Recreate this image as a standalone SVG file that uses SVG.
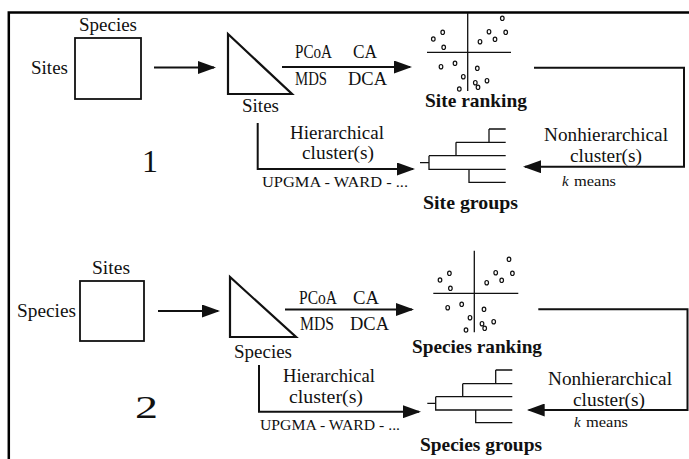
<svg xmlns="http://www.w3.org/2000/svg" width="689" height="459" viewBox="0 0 689 459">
<style>
  text { font-family: "Liberation Serif", "Times New Roman", serif; fill: #111; }
  .lbl { font-size: 19px; }
  .sm { font-size: 15px; }
  .b { font-size: 19px; font-weight: bold; }
  .num { font-size: 32px; }
  .shape { fill: none; stroke: #111; stroke-width: 1.8; }
  .tri { fill: none; stroke: #111; stroke-width: 2.2; stroke-linejoin: miter; }
  .thin { fill: none; stroke: #111; stroke-width: 1.3; }
  .conn { fill: none; stroke: #111; stroke-width: 2; }
  .dot { fill: none; stroke: #111; stroke-width: 1.2; }
</style>
<defs>
  <marker id="arr" markerUnits="userSpaceOnUse" markerWidth="18" markerHeight="13" viewBox="0 0 18 13" refX="16" refY="6.5" orient="auto">
    <path d="M0,0 L18,6.5 L0,13 Z" fill="#111"/>
  </marker>
  <g id="dots">
    <ellipse class="dot" cx="433.3" cy="39" rx="1.8" ry="2.2"/>
    <ellipse class="dot" cx="442.7" cy="32.3" rx="1.8" ry="2.2"/>
    <ellipse class="dot" cx="443.7" cy="47.3" rx="1.8" ry="2.2"/>
    <ellipse class="dot" cx="480" cy="41.7" rx="1.8" ry="2.2"/>
    <ellipse class="dot" cx="489" cy="31.7" rx="1.8" ry="2.2"/>
    <ellipse class="dot" cx="495" cy="39.3" rx="1.8" ry="2.2"/>
    <ellipse class="dot" cx="502.3" cy="18.3" rx="1.8" ry="2.2"/>
    <ellipse class="dot" cx="505.7" cy="32.3" rx="1.8" ry="2.2"/>
    <ellipse class="dot" cx="441" cy="66.7" rx="1.8" ry="2.2"/>
    <ellipse class="dot" cx="455" cy="63.3" rx="1.8" ry="2.2"/>
    <ellipse class="dot" cx="463.3" cy="76.7" rx="1.8" ry="2.2"/>
    <ellipse class="dot" cx="459.3" cy="89" rx="1.8" ry="2.2"/>
    <ellipse class="dot" cx="477.3" cy="68.3" rx="1.8" ry="2.2"/>
    <ellipse class="dot" cx="475.3" cy="82.7" rx="1.8" ry="2.2"/>
    <ellipse class="dot" cx="478" cy="87.3" rx="1.8" ry="2.2"/>
    <ellipse class="dot" cx="487" cy="80.7" rx="1.8" ry="2.2"/>
  </g>
</defs>
<rect width="689" height="459" fill="#fff"/>
<path d="M8.8,459 V12.5 H689" fill="none" stroke="#000" stroke-width="2.5"/>

<!-- Panel 1 -->
<g id="p1-matrix">
  <rect class="shape" x="75" y="38" width="66" height="61"/>
  <text class="lbl" x="79" y="31" textLength="58" lengthAdjust="spacingAndGlyphs">Species</text>
  <text class="lbl" x="31" y="74" textLength="37" lengthAdjust="spacingAndGlyphs">Sites</text>
</g>
<g id="p1-triangle">
  <path class="tri" d="M228,34 V94 H292 Z"/>
  <text class="lbl" x="242" y="112" textLength="37" lengthAdjust="spacingAndGlyphs">Sites</text>
</g>
<g id="p1-ranking">
  <path class="thin" d="M467.7,13 V91 M427,52.3 H511"/>
  <use href="#dots"/>
  <text class="b" x="425" y="107" textLength="102" lengthAdjust="spacingAndGlyphs">Site ranking</text>
</g>
<g id="p1-groups">
  <path class="thin" d="M489,129 H505.7 M489,129 V142.3 M456,142.3 H505.7 M456,142.3 V155.7 M429,155.7 H505.7 M429,155.7 V169.3 H505.7 M469,169.3 V182.3 H505.7 M420,162.7 H429"/>
  <text class="b" x="423" y="209" textLength="95" lengthAdjust="spacingAndGlyphs">Site groups</text>
</g>
<g id="p1-number">
  <text class="num" x="142" y="172">1</text>
</g>

<!-- Panel 2 -->
<g id="p2-matrix">
  <rect class="shape" x="80" y="281" width="64" height="60"/>
  <text class="lbl" x="92" y="274" textLength="38" lengthAdjust="spacingAndGlyphs">Sites</text>
  <text class="lbl" x="17" y="317" textLength="59" lengthAdjust="spacingAndGlyphs">Species</text>
</g>
<g id="p2-triangle">
  <path class="tri" d="M230,277 V337 H296 Z"/>
  <text class="lbl" x="234" y="358" textLength="58" lengthAdjust="spacingAndGlyphs">Species</text>
</g>
<g id="p2-ranking">
  <path class="thin" d="M474.3,250.7 V332.3 M433.3,293.3 H518.3"/>
  <use href="#dots" transform="translate(6.7,241)"/>
  <text class="b" x="412" y="353" textLength="130" lengthAdjust="spacingAndGlyphs">Species ranking</text>
</g>
<g id="p2-groups">
  <path class="thin" d="M495.7,370 H512.3 M495.7,370 V383.7 M462.7,383.7 H512.3 M462.7,383.7 V396.7 M435.7,396.7 H512.3 M435.7,396.7 V410 H512.3 M475.7,410 V422.7 H512.3 M427.3,403.3 H435.7"/>
  <text class="b" x="420" y="450.5" textLength="122" lengthAdjust="spacingAndGlyphs">Species groups</text>
</g>
<g id="p2-number">
  <text class="num" x="135" y="418" textLength="23" lengthAdjust="spacingAndGlyphs">2</text>
</g>

<!-- Connectors -->
<g id="connectors">
  <line class="conn" x1="154" y1="67.5" x2="214" y2="67.5" marker-end="url(#arr)"/>
  <line class="conn" x1="282" y1="67" x2="410" y2="67" marker-end="url(#arr)"/>
  <polyline class="conn" points="534,67.7 684,67.7 684,166.7 525,166.7" marker-end="url(#arr)"/>
  <polyline class="conn" points="257.7,123 257.7,169 413,169" marker-end="url(#arr)"/>

  <line class="conn" x1="158" y1="311" x2="218" y2="311" marker-end="url(#arr)"/>
  <line class="conn" x1="285" y1="309.5" x2="412" y2="309.5" marker-end="url(#arr)"/>
  <polyline class="conn" points="538.3,309.3 687.5,309.3 687.5,410 528.7,410" marker-end="url(#arr)"/>
  <polyline class="conn" points="259,365 259,411.7 419,411.7" marker-end="url(#arr)"/>
</g>

<!-- Connector labels -->
<g id="labels">
  <text class="lbl" x="295" y="58" textLength="37" lengthAdjust="spacingAndGlyphs">PCoA</text>
  <text class="lbl" x="353" y="58" textLength="24" lengthAdjust="spacingAndGlyphs">CA</text>
  <text class="lbl" x="295" y="85" textLength="32" lengthAdjust="spacingAndGlyphs">MDS</text>
  <text class="lbl" x="348" y="85" textLength="39" lengthAdjust="spacingAndGlyphs">DCA</text>
  <text class="lbl" x="290" y="139" textLength="94" lengthAdjust="spacingAndGlyphs">Hierarchical</text>
  <text class="lbl" x="302" y="159" textLength="72" lengthAdjust="spacingAndGlyphs">cluster(s)</text>
  <text class="sm" x="262" y="187" textLength="146" lengthAdjust="spacingAndGlyphs">UPGMA - WARD - ...</text>
  <text class="lbl" x="544" y="141" textLength="124" lengthAdjust="spacingAndGlyphs">Nonhierarchical</text>
  <text class="lbl" x="570" y="161.5" textLength="72" lengthAdjust="spacingAndGlyphs">cluster(s)</text>
  <text class="sm" x="562" y="185.5" font-style="italic">k</text>
  <text class="sm" x="574" y="185.5" textLength="42" lengthAdjust="spacingAndGlyphs">means</text>

  <text class="lbl" x="299" y="304" textLength="38" lengthAdjust="spacingAndGlyphs">PCoA</text>
  <text class="lbl" x="353" y="304" textLength="26" lengthAdjust="spacingAndGlyphs">CA</text>
  <text class="lbl" x="300" y="330" textLength="34" lengthAdjust="spacingAndGlyphs">MDS</text>
  <text class="lbl" x="350" y="330" textLength="39" lengthAdjust="spacingAndGlyphs">DCA</text>
  <text class="lbl" x="283" y="381.5" textLength="92" lengthAdjust="spacingAndGlyphs">Hierarchical</text>
  <text class="lbl" x="289" y="403" textLength="74" lengthAdjust="spacingAndGlyphs">cluster(s)</text>
  <text class="sm" x="260" y="430" textLength="140" lengthAdjust="spacingAndGlyphs">UPGMA - WARD - ...</text>
  <text class="lbl" x="548" y="385" textLength="124" lengthAdjust="spacingAndGlyphs">Nonhierarchical</text>
  <text class="lbl" x="573" y="405.5" textLength="72" lengthAdjust="spacingAndGlyphs">cluster(s)</text>
  <text class="sm" x="574" y="426.5" font-style="italic">k</text>
  <text class="sm" x="586" y="426.5" textLength="42" lengthAdjust="spacingAndGlyphs">means</text>
</g>
</svg>
